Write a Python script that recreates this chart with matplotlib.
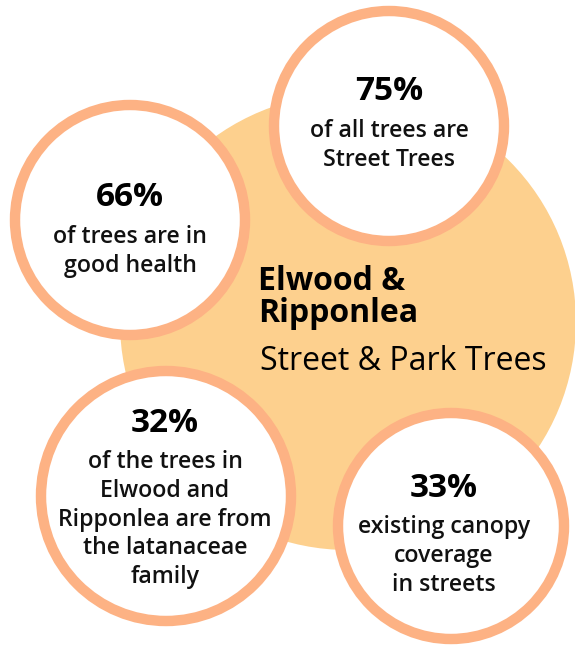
import matplotlib.pyplot as plt
from matplotlib.patches import Circle

plt.rcParams['font.family'] = ['Open Sans', 'DejaVu Sans']

# chart content
percents = ["75%", "66%", "32%", "33%"]
descriptions = [
    ["of all trees are", "Street Trees"],
    ["of trees are in", "good health"],
    ["of the trees in", "Elwood and", "Ripponlea are from", "the latanaceae", "family"],
    ["existing canopy", "coverage", "in streets"],
]
title_bold = ["Elwood &", "Ripponlea"]
title_light = "Street & Park Trees"

# layout (pixels, y down)
circles = [(389, 126, 115), (130, 220, 115), (166, 496, 125), (451, 526, 113)]
text_x = [389, 130, 165, 444]
pct_y = [100, 206, 432, 497]
desc_y = [137, 243, 468, 533]
line_step = 28.8

fig = plt.figure(figsize=(5.75, 6.52), dpi=100)
ax = fig.add_axes([0, 0, 1, 1])
ax.set_xlim(0, 575)
ax.set_ylim(652, 0)
ax.set_aspect('equal')
ax.axis('off')

ax.add_patch(Circle((348, 322), 228, facecolor='#FDD08E', edgecolor='none', zorder=1))

for i in range(len(percents)):
    cx, cy, r = circles[i]
    ax.add_patch(Circle((cx, cy), r, facecolor='white', edgecolor='#FDB284', linewidth=7.5, zorder=2))
    ax.text(text_x[i], pct_y[i], percents[i], ha='center', va='baseline',
            fontsize=24, fontweight='bold', color='black', zorder=3)
    for j, line in enumerate(descriptions[i]):
        ax.text(text_x[i], desc_y[i] + j * line_step, line, ha='center', va='baseline',
                fontsize=16.7, fontweight='semibold', color='#111111', zorder=3)

# title block: one text so the tight lines do not clash
ax.text(258, 322, "\n".join(title_bold), ha='left', va='baseline', ma='left',
        fontsize=23, fontweight='bold', linespacing=0.95, zorder=3)
ax.text(260, 370, title_light, ha='left', va='baseline', fontsize=23, fontweight='normal', zorder=3)

plt.savefig('out.png', dpi=100)
